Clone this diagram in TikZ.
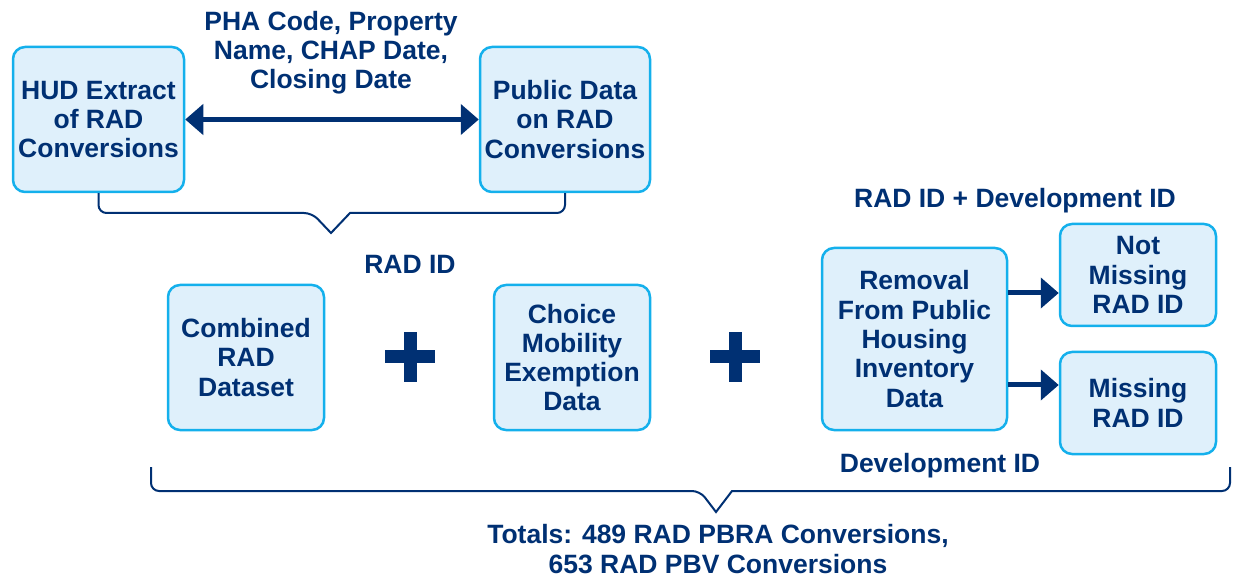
\documentclass[tikz,border=0pt]{standalone}
\usepackage{fontspec}
\setmainfont{Liberation Sans}
\usetikzlibrary{arrows.meta}
\definecolor{navy}{RGB}{0,48,115}
\definecolor{cyanb}{RGB}{20,176,236}
\definecolor{boxfill}{RGB}{223,240,251}
\begin{document}
\begin{tikzpicture}[x=1pt,y=-1pt,
  box/.style={draw=cyanb,fill=boxfill,line width=2.5pt,rounded corners=12pt,
    align=center,text=navy,font=\bfseries\fontsize{26.5}{29.3}\selectfont,inner sep=0pt},
  lbl/.style={align=center,text=navy,font=\bfseries\fontsize{26.5}{29}\selectfont,inner sep=0pt},
  bigarr/.style={draw=navy,line width=5pt,-{Triangle[length=18pt,width=30pt]}},
  brace/.style={draw=navy,line width=2pt,rounded corners=8pt}
]
\useasboundingbox (0,0) rectangle (1235,577);
\node[box,minimum width=171pt,minimum height=145pt] (hud) at (98.5,119.5) {HUD Extract\\of RAD\\Conversions};
\node[box,minimum width=170pt,minimum height=145pt] (pub) at (565,119.5) {Public Data\\on RAD\\Conversions};
\node[box,minimum width=156pt,minimum height=145pt] (comb) at (246,357.5) {Combined\\RAD\\Dataset};
\node[box,minimum width=156pt,minimum height=145pt] (choice) at (572,357.5) {Choice\\Mobility\\Exemption\\Data};
\node[box,minimum width=185pt,minimum height=182pt] (rem) at (914.5,339) {Removal\\From Public\\Housing\\Inventory\\Data};
\node[box,minimum width=156pt,minimum height=102pt] (notm) at (1138,275) {Not\\Missing\\RAD ID};
\node[box,minimum width=156pt,minimum height=102pt] (miss) at (1138,403) {Missing\\RAD ID};

\node[lbl] (toplbl) at (331,53) {PHA Code, Property\\Name, CHAP Date,\\Closing Date};
\node[lbl] (radid) at (410,264) {RAD ID};
\node[lbl] (raddev) at (1015,201) {RAD ID + Development ID};
\node[lbl] (devid) at (940,466) {Development ID};
\node[lbl,font=\bfseries\fontsize{26.5}{30}\selectfont] (tot) at (718,549) {Totals: 489 RAD PBRA Conversions,\\653 RAD PBV Conversions};

\draw[draw=navy,line width=5pt,{Triangle[length=18pt,width=30pt]}-{Triangle[length=18pt,width=30pt]}] (hud.east) -- (pub.east -| pub.west);

\coordinate (a1) at (0,293);
\coordinate (a2) at (0,385);
\draw[bigarr] (rem.east |- a1) -- (notm.west |- a1);
\draw[bigarr] (rem.east |- a2) -- (miss.west |- a2);

% top bracket
\coordinate (tb) at (331,233);
\draw[brace] (hud.south) -- (hud.south |- 0,213) -- (312,213) [sharp corners] -- (tb) -- (350,213) [rounded corners=8pt] -- (pub.south |- 0,213) -- (pub.south);

% bottom brace
\coordinate (bb) at (716,512);
\draw[brace] (151,467) -- (151,491) -- (700,491) [sharp corners]-- (bb) -- (732,491) [rounded corners=8pt] -- (1230,491) -- (1230,467);

% plus signs
\foreach \cx in {410,735}{
  \fill[navy] (\cx-25,357-6.5) rectangle (\cx+25,357+6.5);
  \fill[navy] (\cx-6.5,357-25) rectangle (\cx+6.5,357+25);
}
\end{tikzpicture}
\end{document}
